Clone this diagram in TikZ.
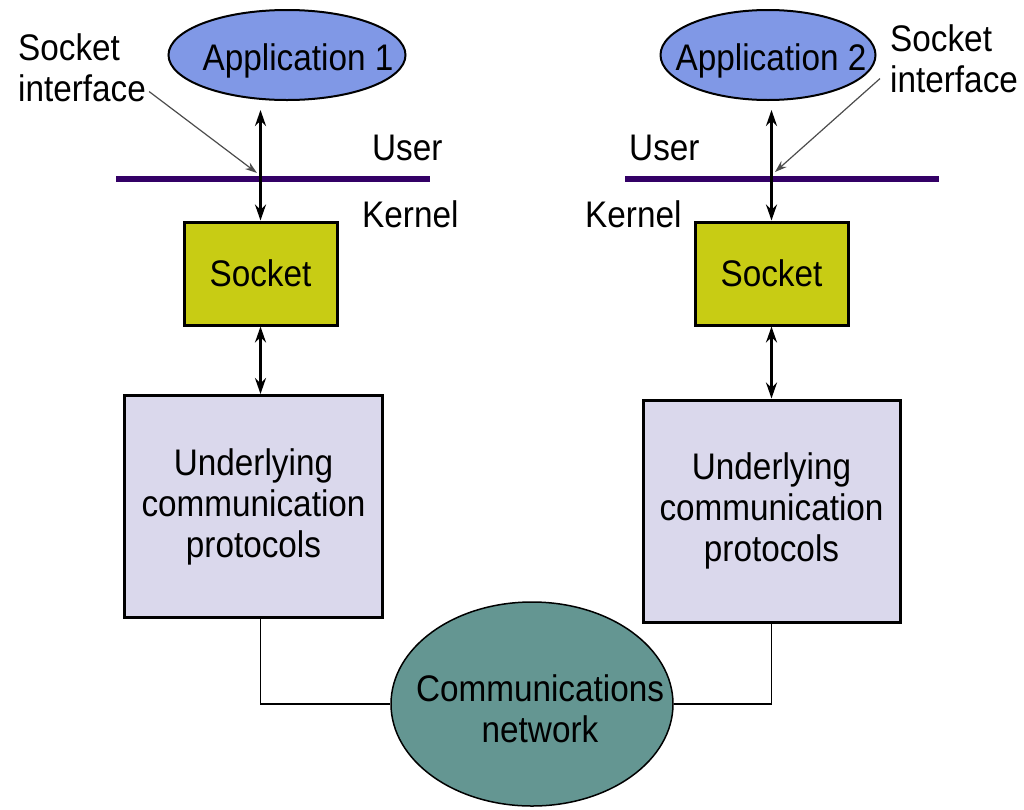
\documentclass[tikz,border=0pt]{standalone}
\usepackage{fontspec}
\setmainfont{Liberation Sans}[FakeStretch=0.9]
\usetikzlibrary{shapes.geometric,arrows.meta,positioning}

\definecolor{appblue}{RGB}{128,152,230}
\definecolor{sockyellow}{RGB}{200,204,20}
\definecolor{protolilac}{RGB}{218,216,236}
\definecolor{netteal}{RGB}{100,150,146}
\definecolor{barpurple}{RGB}{51,0,102}

\begin{document}
\begin{tikzpicture}[x=1pt,y=-1pt,
    every node/.style={font=\fontsize{37}{41}\selectfont},
    app/.style={ellipse,draw,fill=appblue,line width=2pt,inner sep=0pt},
    sockbox/.style={rectangle,draw,fill=sockyellow,line width=3pt,minimum width=153pt,minimum height=103pt},
    proto/.style={rectangle,draw,fill=protolilac,line width=3pt,align=center,minimum width=258pt,minimum height=222pt},
    net/.style={ellipse,draw,fill=netteal,line width=1.5pt,minimum width=282pt,minimum height=204pt,inner sep=0pt},
    txt/.style={inner sep=0pt,anchor=base,align=center},
    bar/.style={barpurple,line width=6pt},
    link/.style={line width=2.5pt,{Stealth[length=16pt,width=11pt]}-{Stealth[length=16pt,width=11pt]}},
    pointer/.style={black!70,line width=1.2pt,-{Stealth[length=12pt,width=8pt]}},
    lbl/.style={inner sep=0pt,anchor=base west,align=left}]
    \useasboundingbox (0,0) rectangle (1024,809);

    \node[app,minimum width=237pt,minimum height=90pt] (app1) at (287,55) {};
    \node[app,minimum width=215pt,minimum height=90pt] (app2) at (768,55) {};
    \node[txt] (app1txt) at (298,70) {Application 1};
    \node[txt] (app2txt) at (771,70) {Application 2};
    \node[sockbox] (sock1) at (260.5,273.5) {Socket};
    \node[sockbox] (sock2) at (771.5,273.5) {Socket};
    \node[proto] (proto1) at (253.5,506.5) {Underlying\\communication\\protocols};
    \node[proto,minimum width=257pt] (proto2) at (771.5,511) {Underlying\\communication\\protocols};
    \node[net] (net) at (532,704) {};
    \node[txt] (nettxt) at (540,742) {Communications\\network};

    % user / kernel boundary
    \coordinate (bar1w) at (116,179);
    \coordinate (bar1e) at (430,179);
    \coordinate (bar2w) at (625,179);
    \coordinate (bar2e) at (939,179);
    \draw[bar] (bar1w) -- (bar1e);
    \draw[bar] (bar2w) -- (bar2e);

    \node[lbl] (user1) at (372,160) {User};
    \node[lbl] (kern1) at (362,227) {Kernel};
    \node[lbl] (user2) at (629,160) {User};
    \node[lbl] (kern2) at (585,227) {Kernel};
    \node[lbl] (sif1) at (18,101) {Socket\\interface};
    \node[lbl] (sif2) at (890,92) {Socket\\interface};

    \draw[link,shorten <=9pt] (sock1.north |- app1.south) -- (sock1.north);
    \draw[link,shorten <=9pt] (sock2.north |- app2.south) -- (sock2.north);
    \draw[link] (sock1.south) -- (sock1.south |- proto1.north);
    \draw[link] (sock2.south) -- (proto2.north);

    \coordinate (si1) at (257,173);
    \coordinate (si2) at (775,172);
    \draw[pointer] ([shift={(3,-10)}]sif1.south east) -- (si1);
    \draw[pointer] ([shift={(-10,-14)}]sif2.south west) -- (si2);

    \draw[line width=1.2pt] (proto1.south -| sock1.south) |- (net);
    \draw[line width=1.2pt] (proto2.south) |- (net);
\end{tikzpicture}
\end{document}
